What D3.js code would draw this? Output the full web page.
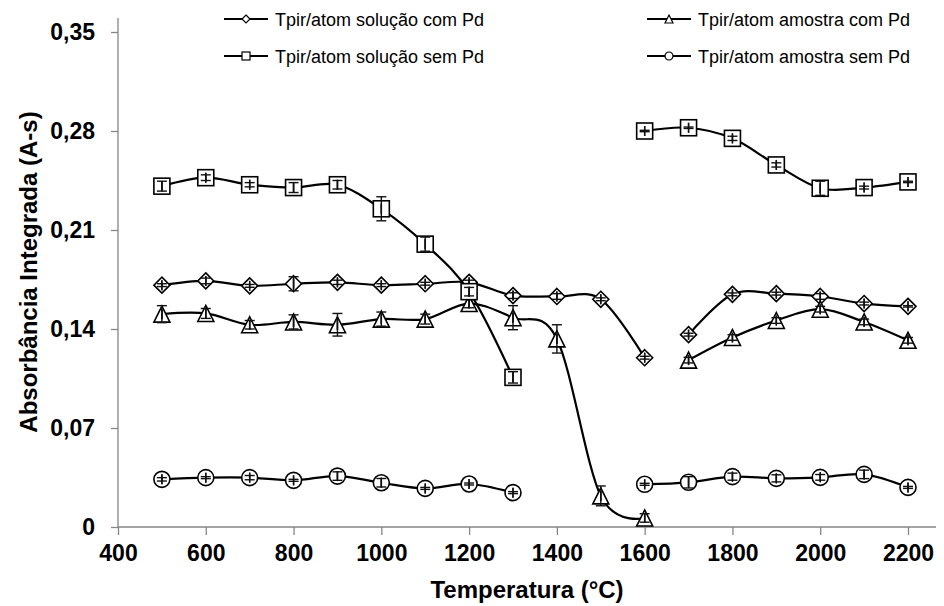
<!DOCTYPE html>
<html>
<head>
<meta charset="utf-8">
<script src="https://cdn.jsdelivr.net/npm/d3@7"></script>
<style>
  body { margin: 0; background: #fff; }
  svg { font-family: "Liberation Sans", Arial, sans-serif; }
</style>
</head>
<body>
<div id="grafico"></div>
<script>
// temperaturas de pirólise/atomização (°C)
var temperaturas = [500, 600, 700, 800, 900, 1000, 1100, 1200, 1300, 1400, 1500, 1600, 1700, 1800, 1900, 2000, 2100, 2200]
var erroTemperatura = 0

var solucaoComPd     = [0.171, 0.174, 0.1705, 0.172, 0.173, 0.171, 0.172, 0.173, 0.1636, 0.163, 0.161, 0.1197, 0.136, 0.1645, 0.165, 0.163, 0.158, 0.156]
var solucaoComPdErro = [0.001, 0.002, 0.001, 0.005, 0.0015, 0.001, 0.001, 0.0015, 0.002, 0.002, 0.001, 0.001, 0.001, 0.001, 0.001, 0.002, 0.001, 0.0005]

var amostraComPd     = [0.1505, 0.151, 0.143, 0.145, 0.143, 0.147, 0.147, 0.158, 0.148, 0.133, 0.022, 0.0064, 0.118, 0.134, 0.146, 0.154, 0.145, 0.132]
var amostraComPdErro = [0.006, 0.0035, 0.003, 0.005, 0.008, 0.005, 0.0035, 0.003, 0.0085, 0.01, 0.007, 0.003, 0.002, 0.002, 0.002, 0.002, 0.002, 0.002]

var solucaoSemPd     = [0.241, 0.247, 0.242, 0.240, 0.242, 0.225, 0.200, 0.1664, 0.1058, null, null, 0.280, 0.2823, 0.2748, 0.256, 0.2395, 0.240, 0.244]
var solucaoSemPdErro = [0.0035, 0.002, 0.0015, 0.0035, 0.003, 0.0085, 0.005, 0.003, 0.004, null, null, 0.0005, 0.0005, 0.0015, 0.0015, 0.005, 0.001, 0.0005]

var amostraSemPd     = [0.0337, 0.0349, 0.0349, 0.033, 0.036, 0.0313, 0.0273, 0.0304, 0.0243, null, null, 0.0302, 0.0316, 0.0356, 0.0344, 0.0351, 0.0372, 0.028]
var amostraSemPdErro = [0.0012, 0.0007, 0.0015, 0.0007, 0.003, 0.003, 0.0007, 0.0007, 0.0007, null, null, 0.0007, 0.004, 0.0025, 0.0025, 0.002, 0.003, 0.0007]

var xTicks = [400, 600, 800, 1000, 1200, 1400, 1600, 1800, 2000, 2200]
var yTicks = [0, 0.07, 0.14, 0.21, 0.28, 0.35]

var series = [
    {nome: "Tpir/atom solução com Pd", valores: solucaoComPd, erros: solucaoComPdErro, marcador: "losango", quebra: [1600]},
    {nome: "Tpir/atom amostra com Pd", valores: amostraComPd, erros: amostraComPdErro, marcador: "triangulo", quebra: [1600]},
    {nome: "Tpir/atom solução sem Pd", valores: solucaoSemPd, erros: solucaoSemPdErro, marcador: "quadrado", quebra: []},
    {nome: "Tpir/atom amostra sem Pd", valores: amostraSemPd, erros: amostraSemPdErro, marcador: "circulo", quebra: []}
]

var width = 944, height = 606

var svg = d3.select("#grafico").append("svg")
    .attr("width", width)
    .attr("height", height)

var xScale = d3.scaleLinear().domain([400, 2200]).range([118, 908])
var yScale = d3.scaleLinear().domain([0, 0.35]).range([527, 32])

// eixos
var eixoX = svg.append("g")
    .attr("transform", "translate(0," + yScale(0) + ")")
    .call(d3.axisBottom(xScale).tickValues(xTicks).tickSize(8).tickPadding(10).tickFormat(d3.format("d")))
eixoX.select(".domain").remove()
eixoX.append("line")
    .attr("x1", xScale(400)).attr("x2", 936)
    .attr("y1", 0).attr("y2", 0)
eixoX.selectAll("line").attr("stroke", "#868686").attr("stroke-width", 1.3)
eixoX.selectAll("text")
    .attr("fill", "#000")
    .attr("font-size", "23px")
    .attr("font-weight", "bold")
    .attr("font-family", "Liberation Sans, Arial, sans-serif")

var eixoY = svg.append("g")
    .attr("transform", "translate(" + xScale(400) + ",0)")
    .call(d3.axisLeft(yScale).tickValues(yTicks).tickSize(7).tickPadding(16)
        .tickFormat(function(d) { return d === 0 ? "0" : d3.format(".2f")(d).replace(".", ",") }))
eixoY.select(".domain").remove()
eixoY.append("line")
    .attr("x1", 0).attr("x2", 0)
    .attr("y1", yScale(0)).attr("y2", 18)
eixoY.selectAll("line").attr("stroke", "#868686").attr("stroke-width", 1.3)
eixoY.selectAll("text")
    .attr("fill", "#000")
    .attr("font-size", "23px")
    .attr("font-weight", "bold")
    .attr("font-family", "Liberation Sans, Arial, sans-serif")

svg.append("text")
    .attr("x", 527)
    .attr("y", 598)
    .attr("text-anchor", "middle")
    .attr("font-size", "24px")
    .attr("font-weight", "bold")
    .text("Temperatura (°C)")

svg.append("text")
    .attr("transform", "translate(37,272) rotate(-90)")
    .attr("text-anchor", "middle")
    .attr("font-size", "24px")
    .attr("font-weight", "bold")
    .text("Absorbância Integrada (A-s)")

// marcadores
function desenhaMarcador(g, tipo, s) {
    var h = s / 2
    if (tipo === "losango") {
        return g.append("path").attr("d", "M0," + (-h) + "L" + h + ",0L0," + h + "L" + (-h) + ",0Z")
    }
    if (tipo === "triangulo") {
        return g.append("path").attr("d", "M0," + (-h) + "L" + h + "," + h + "L" + (-h) + "," + h + "Z")
    }
    if (tipo === "quadrado") {
        return g.append("rect").attr("x", -h).attr("y", -h).attr("width", s).attr("height", s)
    }
    return g.append("circle").attr("r", h)
}

var linha = d3.line()
    .x(function(d) { return xScale(d.t) })
    .y(function(d) { return yScale(d.v) })
    .curve(d3.curveCatmullRom.alpha(0))

var plot = svg.append("g")
var cap = 5

series.forEach(function(s) {
    var pontos = temperaturas.map(function(t, i) { return {t: t, v: s.valores[i], e: s.erros[i]} })
        .filter(function(d) { return d.v !== null })

    // separa em trechos (nulos ou quebras)
    var trechos = [], atual = []
    temperaturas.forEach(function(t, i) {
        if (s.valores[i] === null) {
            if (atual.length) trechos.push(atual)
            atual = []
            return
        }
        atual.push({t: t, v: s.valores[i]})
        if (s.quebra.indexOf(t) >= 0) { trechos.push(atual); atual = [] }
    })
    if (atual.length) trechos.push(atual)

    trechos.forEach(function(tr) {
        plot.append("path")
            .attr("d", linha(tr))
            .attr("fill", "none")
            .attr("stroke", "#000")
            .attr("stroke-width", 2.2)
    })

    pontos.forEach(function(d) {
        var g = plot.append("g").attr("transform", "translate(" + xScale(d.t) + "," + yScale(d.v) + ")")
        desenhaMarcador(g, s.marcador, 16)
            .attr("fill", "#fff")
            .attr("stroke", "#000")
            .attr("stroke-width", 1.6)
    })

    // barras de erro (Y e X)
    pontos.forEach(function(d) {
        var x = xScale(d.t), y = yScale(d.v)
        var y1 = yScale(d.v - d.e), y2 = yScale(d.v + d.e)
        var x1 = xScale(d.t - erroTemperatura), x2 = xScale(d.t + erroTemperatura)
        var eb = plot.append("g").attr("stroke", "#111").attr("stroke-width", 1.4)
        eb.append("line").attr("x1", x).attr("x2", x).attr("y1", y1).attr("y2", y2)
        eb.append("line").attr("x1", x - cap).attr("x2", x + cap).attr("y1", y1).attr("y2", y1)
        eb.append("line").attr("x1", x - cap).attr("x2", x + cap).attr("y1", y2).attr("y2", y2)
        eb.append("line").attr("x1", x1).attr("x2", x2).attr("y1", y).attr("y2", y)
        eb.append("line").attr("x1", x1).attr("x2", x1).attr("y1", y - cap).attr("y2", y + cap)
        eb.append("line").attr("x1", x2).attr("x2", x2).attr("y1", y - cap).attr("y2", y + cap)
    })
})

// legenda
var legendaPos = [[224, 19], [647, 19], [224, 56], [647, 56]]
series.forEach(function(s, i) {
    var lg = svg.append("g").attr("transform", "translate(" + legendaPos[i][0] + "," + legendaPos[i][1] + ")")
    lg.append("line")
        .attr("x1", 0).attr("x2", 44)
        .attr("y1", 0).attr("y2", 0)
        .attr("stroke", "#000")
        .attr("stroke-width", 2)
    var m = lg.append("g").attr("transform", "translate(22,0)")
    desenhaMarcador(m, s.marcador, 8)
        .attr("fill", "#fff")
        .attr("stroke", "#000")
        .attr("stroke-width", 1.2)
    lg.append("text")
        .attr("x", 51)
        .attr("y", 6.5)
        .attr("font-size", "18px")
        .text(s.nome)
})
</script>
</body>
</html>
